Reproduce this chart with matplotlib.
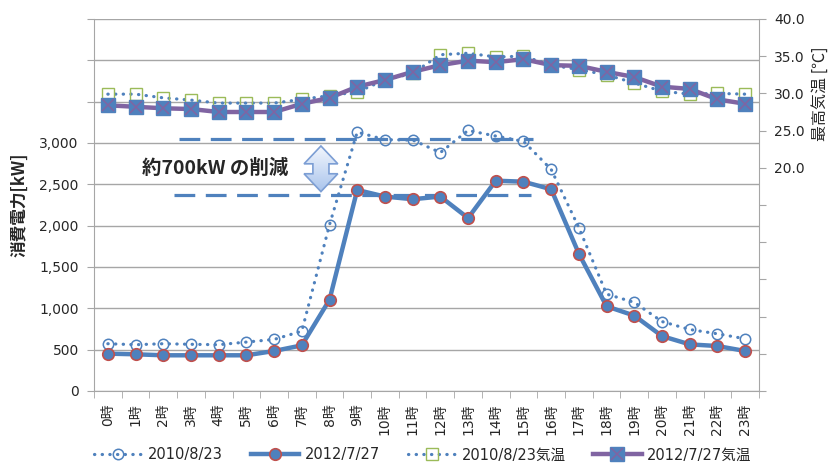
import numpy as np
import matplotlib
matplotlib.use('Agg')
import matplotlib.pyplot as plt
from matplotlib.patches import Polygon
from matplotlib.ticker import FuncFormatter, FixedLocator
from matplotlib.colors import LinearSegmentedColormap

plt.rcParams['font.family'] = ['DejaVu Sans', 'Noto Sans CJK JP']

hours = ['0時', '1時', '2時', '3時', '4時', '5時', '6時', '7時', '8時', '9時', '10時', '11時',
         '12時', '13時', '14時', '15時', '16時', '17時', '18時', '19時', '20時', '21時', '22時', '23時']

power_2010 = [572, 560, 572, 565, 560, 592, 624, 724, 2012, 3132, 3040, 3036,
              2884, 3152, 3084, 3020, 2680, 1975, 1172, 1072, 840, 744, 692, 632]
power_2012 = [452, 444, 432, 432, 432, 432, 484, 552, 1104, 2432, 2352, 2320,
              2352, 2092, 2544, 2532, 2440, 1660, 1024, 912, 664, 564, 544, 484]
temp_2010 = [29.9, 29.9, 29.4, 29.1, 28.7, 28.7, 28.7, 29.2, 29.7, 30.2, 31.8, 32.7,
             35.2, 35.4, 34.9, 35.0, 33.8, 33.2, 32.5, 31.4, 30.3, 29.9, 30.0, 29.9]
temp_2012 = [28.4, 28.2, 28.0, 27.9, 27.5, 27.5, 27.5, 28.6, 29.4, 30.9, 31.8, 32.9,
             33.8, 34.4, 34.2, 34.6, 33.8, 33.7, 32.9, 32.2, 30.9, 30.6, 29.2, 28.6]

labels = ['2010/8/23', '2012/7/27', '2010/8/23気温', '2012/7/27気温']

BLUE = '#4F81BD'
RED = '#C0504D'
GREEN = '#9BBB59'
PURPLE = '#8064A2'
GRID = '#a6a6a6'
TXT = '#262626'

x = np.arange(len(hours))
dots = (0, (0.1, 2.3))

fig = plt.figure(figsize=(8.29, 4.66), dpi=100)
ax = fig.add_axes([94/829, 1-391/466, (759-94)/829, (391-19)/466])
ax2 = ax.twinx()

# power
l1, = ax.plot(x, power_2010, color=BLUE, lw=2.3, linestyle=dots, dash_capstyle='round',
              marker='o', ms=7.5, mfc='none', mec=BLUE, mew=1.1, zorder=3)
l2, = ax.plot(x, power_2012, color=BLUE, lw=3.2, marker='o', ms=8.3,
              mfc=BLUE, mec=RED, mew=1.2, zorder=4)

# temperature
l3, = ax2.plot(x, temp_2010, color=BLUE, lw=2.3, linestyle=dots, dash_capstyle='round',
               marker='s', ms=8.5, mfc='none', mec=GREEN, mew=1.0, zorder=3)
l4, = ax2.plot(x, temp_2012, color=PURPLE, lw=3.2, marker='s', ms=9.5,
               mfc=BLUE, mec=BLUE, zorder=4)
l4x, = ax2.plot(x, temp_2012, linestyle='none', marker='x', ms=8, mec=PURPLE, mew=1.1, zorder=5)

ax.set_xlim(-0.5, 23.5)
ax.set_ylim(0, 4500)
ax2.set_ylim(-10, 40)

# axes styling
ax.set_xticks(x)
ax.set_xticklabels(hours, rotation=90, fontsize=10, color=TXT)
ax.set_xticks(np.arange(-0.5, 24, 1), minor=True)
ax.tick_params(axis='x', which='major', length=0, pad=9)
ax.tick_params(axis='x', which='minor', length=5, color=GRID)

ax.yaxis.set_major_locator(FixedLocator(np.arange(0, 4501, 500)))
ax.yaxis.set_major_formatter(FuncFormatter(lambda v, p: f'{int(v):,}' if v <= 3000 else ''))
ax.tick_params(axis='y', length=5, color=GRID, labelsize=10, labelcolor=TXT, pad=6)
ax.yaxis.grid(True, color=GRID, lw=1)
ax.set_axisbelow(True)

ax2.yaxis.set_major_locator(FixedLocator(np.arange(-10, 41, 5)))
ax2.yaxis.set_major_formatter(FuncFormatter(lambda v, p: f'{v:.1f}' if v >= 20 else ''))
ax2.tick_params(axis='y', length=5, color=GRID, labelsize=10, labelcolor=TXT, pad=6)

for a in (ax, ax2):
    a.spines['top'].set_visible(False)
    for s in ('left', 'right', 'bottom'):
        a.spines[s].set_color(GRID)
ax.spines['right'].set_visible(False)
ax2.spines['left'].set_visible(False)
ax2.spines['bottom'].set_visible(False)

fig.text(19/829, 1-205/466, '消費電力[kW]', rotation=90, ha='center', va='center',
         fontsize=12, fontweight='bold', color=TXT, family=['Noto Sans CJK JP'])
fig.text(820/829, 1-94/466, '最高気温 [℃]', rotation=90, ha='center', va='center',
         fontsize=11.5, color=TXT, family=['Noto Sans CJK JP'])

# annotation: reduction
ax.plot([2.56, 15.34], [3050, 3050], color=BLUE, lw=2.3, linestyle=(0, (6.5, 3.3)), zorder=2)
ax.plot([2.38, 15.27], [2376, 2376], color=BLUE, lw=2.3, linestyle=(0, (6.5, 3.3)), zorder=2)
ax.text(3.86, 2688, '約700kW の削減', ha='center', va='center', fontsize=14,
        fontweight='bold', color=TXT, family=['Noto Sans CJK JP'])

cx, hw, sw = 7.69, 0.61, 0.29
top, hb1, hb2, bot = 2964, 2748, 2628, 2412
arrow_pts = [(cx, top), (cx + hw, hb1), (cx + sw, hb1), (cx + sw, hb2), (cx + hw, hb2),
             (cx, bot), (cx - hw, hb2), (cx - sw, hb2), (cx - sw, hb1), (cx - hw, hb1)]
arrow = Polygon(arrow_pts, closed=True, facecolor='none', edgecolor='#7c9ed4', lw=1.2, zorder=6)
ax.add_patch(arrow)
grad = np.linspace(0, 1, 100).reshape(-1, 1)
cmap = LinearSegmentedColormap.from_list('arr', ['#f2f6fd', '#a9c4ec'])
im = ax.imshow(grad, cmap=cmap, extent=(cx - hw, cx + hw, bot, top), origin='upper',
               aspect='auto', zorder=5)
im.set_clip_path(arrow)

leg = fig.legend([l1, l2, l3, (l4, l4x)], labels, loc='center', ncol=4,
                 bbox_to_anchor=(423/829, 1-455/466), frameon=False, fontsize=10.5,
                 handlelength=3.3, handletextpad=0.4, columnspacing=1.9)
for t in leg.get_texts():
    t.set_color(TXT)

fig.savefig('out.png', dpi=100)
